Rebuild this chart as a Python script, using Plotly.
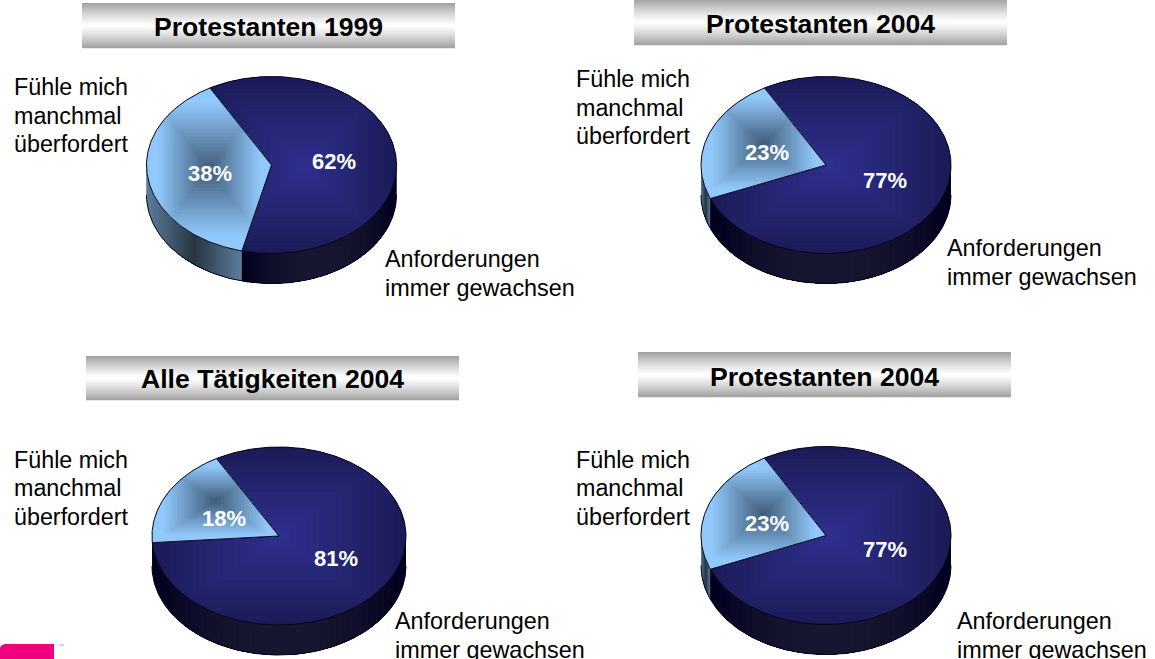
import numpy as np
import plotly.graph_objects as go

# ---- data ----
titles = ["Protestanten 1999", "Protestanten 2004", "Alle Tätigkeiten 2004", "Protestanten 2004"]
share_manchmal = [38, 23, 18, 23]
share_gewachsen = [62, 77, 81, 77]
label_manchmal = ["Fühle mich", "manchmal", "überfordert"]
label_gewachsen = ["Anforderungen", "immer gewachsen"]

# ---- layout / style (page pixels) ----
W, H = 1155, 659
panels = [
    dict(cx=271.5, cy=165, a=125, b=88.5, bar=(82, 3, 455, 48), ty=27,
         lm=(13, 87), lg=(384, 259), pm=(210, 173), pg=(334, 161)),
    dict(cx=826, cy=165, a=125, b=88.5, bar=(634, -1, 1007, 45), ty=24,
         lm=(575, 79), lg=(946, 248), pm=(767, 152), pg=(885, 180)),
    dict(cx=279, cy=536, a=127, b=89, bar=(86, 356, 459, 400), ty=379,
         lm=(13, 459.5), lg=(394, 621), pm=(224, 518), pg=(336, 558)),
    dict(cx=826, cy=535.5, a=125, b=89, bar=(638, 352, 1011, 397), ty=377,
         lm=(575, 459.5), lg=(956, 621), pm=(767, 523), pg=(885, 549)),
]
LINE_STEP = 28.5
DEPTH = 30
START = -29.5
LIGHT_C, LIGHT_E = (62, 90, 120), (146, 201, 251)
DARK_C, DARK_E = (48, 48, 144), (27, 27, 88)
FONT = "Liberation Sans"


def mix(c0, c1, t):
    t = float(np.clip(t, 0, 1))
    return "rgb(%d,%d,%d)" % tuple(round(a + (b - a) * t) for a, b in zip(c0, c1))


def rim(p, deg):
    r = np.radians(deg)
    return p["cx"] + p["a"] * np.sin(r), p["cy"] - p["b"] * np.cos(r)


def clip_rect(xs, ys, x0, x1, y0, y1):
    pts = list(zip(xs, ys))
    tests = [
        (lambda q: q[0] >= x0, lambda a, b: (x0, a[1] + (b[1] - a[1]) * (x0 - a[0]) / (b[0] - a[0]))),
        (lambda q: q[0] <= x1, lambda a, b: (x1, a[1] + (b[1] - a[1]) * (x1 - a[0]) / (b[0] - a[0]))),
        (lambda q: q[1] >= y0, lambda a, b: (a[0] + (b[0] - a[0]) * (y0 - a[1]) / (b[1] - a[1]), y0)),
        (lambda q: q[1] <= y1, lambda a, b: (a[0] + (b[0] - a[0]) * (y1 - a[1]) / (b[1] - a[1]), y1)),
    ]
    for inside, cross in tests:
        out = []
        for i, cur in enumerate(pts):
            prev = pts[i - 1]
            if inside(cur):
                if not inside(prev):
                    out.append(cross(prev, cur))
                out.append(cur)
            elif inside(prev):
                out.append(cross(prev, cur))
        pts = out
        if not pts:
            return [], []
    return [q[0] for q in pts], [q[1] for q in pts]


fig = go.Figure()


def poly(xs, ys, color, line=None, lw=0):
    fig.add_trace(go.Scatter(
        x=list(xs), y=list(ys), mode="lines", fill="toself", fillcolor=color,
        line=dict(color=line or color, width=lw), hoverinfo="skip", showlegend=False))


def outline(xs, ys):
    fig.add_trace(go.Scatter(x=list(xs), y=list(ys), mode="lines",
                             line=dict(color="#05051e", width=1), hoverinfo="skip", showlegend=False))


def side_color(kind, t):
    # t: 0 at the middle of the visible wall of a slice, 1 at its ends
    if kind == "light":
        return mix((38, 52, 64), (92, 124, 154), t)
    return mix((22, 22, 48), (0, 0, 30), t ** 2.5)


def draw_wall(p, deg0, deg1, kind):
    lo, hi = max(deg0, 90), min(deg1, 270)
    if lo >= hi:
        return
    angs = np.linspace(lo, hi, max(int(hi - lo), 2) + 1)
    top = [rim(p, d) for d in angs]
    xs = [q[0] for q in top] + [q[0] for q in reversed(top)]
    ys = [q[1] for q in top] + [q[1] + DEPTH for q in reversed(top)]
    x0, x1 = min(xs), max(xs)
    mid, half = (x0 + x1) / 2, (x1 - x0) / 2
    y0, y1 = min(ys) - 1, max(ys) + 1
    # nested clips from the outer ends to the middle leave no seams
    poly(xs + xs[:1], ys + ys[:1], side_color(kind, 1))
    for t in np.linspace(1, 0.03, 24):
        cxs, cys = clip_rect(xs, ys, mid - half * t, mid + half * t, y0, y1)
        if cxs:
            poly(cxs + cxs[:1], cys + cys[:1], side_color(kind, t))


def draw_top(p, deg0, deg1, cc, ce, reach):
    angs = np.linspace(deg0, deg1, int(deg1 - deg0) + 2)
    xs = [p["cx"]] + [rim(p, d)[0] for d in angs]
    ys = [p["cy"]] + [rim(p, d)[1] for d in angs]
    bx0, bx1, by0, by1 = min(xs), max(xs), min(ys), max(ys)
    mx, my = (bx0 + bx1) / 2, (by0 + by1) / 2
    poly(xs + xs[:1], ys + ys[:1], mix(cc, ce, 1))
    for t in np.linspace(1, 0.04, 22):
        hw, hh = (bx1 - bx0) / 2 * t, (by1 - by0) / 2 * t
        cxs, cys = clip_rect(xs, ys, mx - hw, mx + hw, my - hh, my + hh)
        if cxs:
            poly(cxs + cxs[:1], cys + cys[:1], mix(cc, ce, t / reach))
    outline(xs + xs[:1], ys + ys[:1])


for p, lt in zip(panels, share_manchmal):
    # both slices meet at START: dark runs clockwise from it, light anticlockwise
    split = START - lt * 3.6
    draw_wall(p, split + 360, START + 360, "light")
    draw_wall(p, START, split + 360, "dark")
    wall = np.linspace(90, 270, 120)
    wx = [rim(p, d)[0] for d in wall]
    wy = [rim(p, d)[1] + DEPTH for d in wall]
    outline(wx, wy)
    draw_top(p, START, split + 360, DARK_C, DARK_E, 1.0)
    draw_top(p, split, START, LIGHT_C, LIGHT_E, 0.85)

# title bars as stacked strips
shapes = []
for p in panels:
    x0, y0, x1, y1 = p["bar"]
    n = int(y1 - y0)
    for i in range(n):
        t = abs((i + 0.5) / n - 0.5) * 2
        shapes.append(dict(type="rect", xref="x", yref="y", layer="below",
                           x0=x0, x1=x1, y0=y0 + i, y1=y0 + i + 1.3, line=dict(width=0),
                           fillcolor=mix((255, 255, 255), (160, 160, 160), t ** 1.2)))
# logo fragment
shapes.append(dict(type="path", xref="x", yref="y", fillcolor="#f0007f", line=dict(width=0),
                   path="M 0 648 Q 1 644 6 644 L 54 644 L 54 660 L 0 660 Z"))

anns = []


def text(x, y, s, size, color="black", bold=False, xanchor="left", align="left"):
    anns.append(dict(x=x, y=y, xref="x", yref="y", text="<b>%s</b>" % s if bold else s,
                     showarrow=False, xanchor=xanchor, yanchor="middle", align=align,
                     borderpad=0, font=dict(family=FONT, size=size, color=color)))


for p, title, m, g in zip(panels, titles, share_manchmal, share_gewachsen):
    text((p["bar"][0] + p["bar"][2]) / 2, p["ty"], title, 26.6, bold=True, xanchor="center", align="center")
    for i, line in enumerate(label_manchmal):
        text(p["lm"][0], p["lm"][1] + i * LINE_STEP, line, 23.3)
    for i, line in enumerate(label_gewachsen):
        text(p["lg"][0], p["lg"][1] + i * LINE_STEP, line, 23.4)
    text(p["pm"][0], p["pm"][1], "%d%%" % m, 22, color="white", bold=True, xanchor="center", align="center")
    text(p["pg"][0], p["pg"][1], "%d%%" % g, 22, color="white", bold=True, xanchor="center", align="center")
text(57, 646, "™", 6, color="#f080b8", xanchor="left")

fig.update_layout(
    width=W, height=H, margin=dict(l=0, r=0, t=0, b=0),
    paper_bgcolor="white", plot_bgcolor="white", showlegend=False,
    xaxis=dict(range=[0, W], visible=False, fixedrange=True),
    yaxis=dict(range=[H, 0], visible=False, fixedrange=True),
    shapes=shapes, annotations=anns,
)
fig.write_html("out.html", config=dict(displayModeBar=False),
               post_script="document.body.style.margin='0';document.body.style.overflow='hidden';")
